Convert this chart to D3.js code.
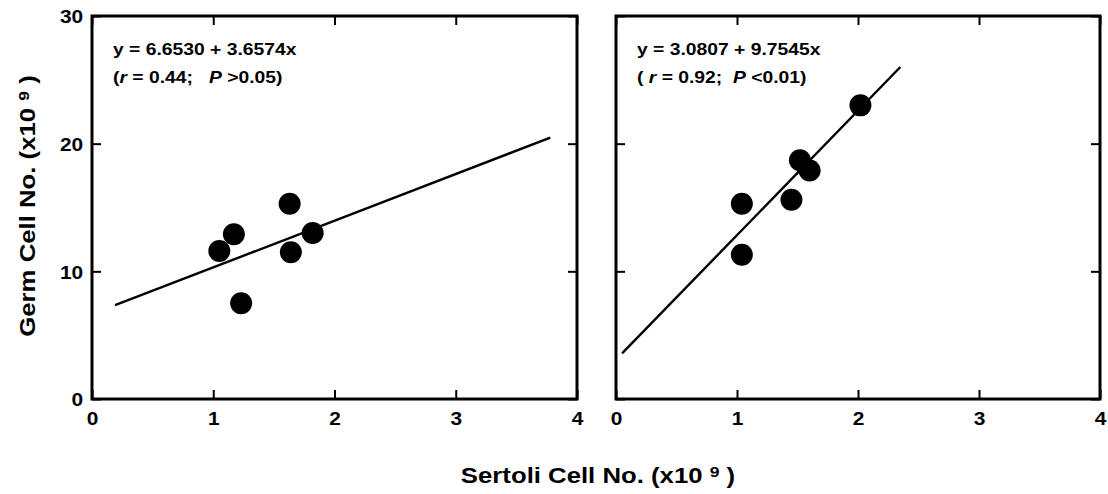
<!DOCTYPE html>
<html>
<head>
<meta charset="utf-8">
<script src="https://cdn.jsdelivr.net/npm/d3@7"></script>
<style>
    body { margin: 0; background: #fff; }
    svg text {
        font-family: "Liberation Sans", Arial, Helvetica, sans-serif;
        font-weight: bold;
        white-space: pre;
        fill: #000;
    }
</style>
</head>
<body>
<svg id="chart" width="1108" height="494"></svg>
<script>
// Axes (both panels share them)
const xTicks = [0, 1, 2, 3, 4];
const yTicks = [0, 10, 20, 30];

// Left panel: Sertoli (x10^9) vs Germ cells (x10^9)
const leftSertoli = [1.05, 1.17, 1.23, 1.63, 1.64, 1.82];
const leftGerm    = [11.6, 12.9, 7.5, 15.3, 11.5, 13.0];
const leftCoef    = [6.6530, 3.6574];   // intercept, slope
const leftSpan    = [0.19, 3.78];       // x extent of the fitted line
const leftEq      = 'y = 6.6530 + 3.6574x';
const leftStat    = [['(', false], ['r', true], [' = 0.44;   ', false], ['P', true], [' >0.05)', false]];

// Right panel
const rightSertoli = [1.04, 1.04, 1.45, 1.52, 1.60, 2.02];
const rightGerm    = [11.3, 15.3, 15.6, 18.7, 17.9, 23.0];
const rightCoef    = [3.0807, 9.7545];
const rightSpan    = [0.05, 2.35];
const rightEq      = 'y = 3.0807 + 9.7545x';
const rightStat    = [['( ', false], ['r', true], [' = 0.92;  ', false], ['P', true], [' <0.01)', false]];

const svg = d3.select('#chart');

// the original type is a wide Helvetica: stretch the glyphs horizontally
const wide = s => `scale(${s},1)`;

const plotTop = 16, plotBottom = 399;
const y = d3.scaleLinear().domain([0, 30]).range([plotBottom, plotTop]);

const panels = [
    { xs: leftSertoli,  ys: leftGerm,  coef: leftCoef,  span: leftSpan,  eq: leftEq,  stat: leftStat,  px: [92, 577],   yLabels: true },
    { xs: rightSertoli, ys: rightGerm, coef: rightCoef, span: rightSpan, eq: rightEq, stat: rightStat, px: [616, 1100], yLabels: false }
];

panels.forEach(p => {
    const x = d3.scaleLinear().domain([0, 4]).range(p.px);
    const g = svg.append('g');

    // ── ticks, all pointing inward ──
    const bot = g.append('g').attr('transform', `translate(0,${plotBottom})`)
        .call(d3.axisBottom(x).tickValues(xTicks).tickSizeInner(-9).tickSizeOuter(0).tickPadding(13)
            .tickFormat(d3.format('d')));
    g.append('g').attr('transform', `translate(0,${plotTop})`)
        .call(d3.axisTop(x).tickValues(xTicks).tickSizeInner(-9).tickSizeOuter(0).tickFormat(''));
    const lft = g.append('g').attr('transform', `translate(${p.px[0]},0)`)
        .call(d3.axisLeft(y).tickValues(yTicks).tickSizeInner(-9).tickSizeOuter(0).tickPadding(8)
            .tickFormat(p.yLabels ? d3.format('d') : ''));
    g.append('g').attr('transform', `translate(${p.px[1]},0)`)
        .call(d3.axisRight(y).tickValues(yTicks).tickSizeInner(-9).tickSizeOuter(0).tickFormat(''));

    g.selectAll('.domain').remove();
    g.selectAll('.tick line').attr('stroke', '#000').attr('stroke-width', 2);
    g.selectAll('.tick text').attr('font-size', 19).attr('font-family', null).attr('transform', wide(1.1));
    bot.selectAll('.tick text').attr('dy', '0.71em');
    lft.selectAll('.tick text').attr('dy', '0.36em');

    // ── frame ──
    g.append('rect')
        .attr('x', p.px[0]).attr('y', plotTop)
        .attr('width', p.px[1] - p.px[0]).attr('height', plotBottom - plotTop)
        .attr('fill', 'none').attr('stroke', '#000').attr('stroke-width', 3);

    // ── regression line ──
    const line = d3.line().x(d => x(d)).y(d => y(p.coef[0] + p.coef[1] * d));
    g.append('path')
        .attr('d', line(p.span))
        .attr('fill', 'none').attr('stroke', '#000').attr('stroke-width', 2.4);

    // ── points ──
    g.selectAll('circle')
        .data(p.xs.map((v, i) => [v, p.ys[i]]))
        .join('circle')
        .attr('cx', d => x(d[0])).attr('cy', d => y(d[1]))
        .attr('r', 11).attr('fill', '#000');

    // ── equation + stats ──
    const tx = p.px[0] + 21;
    g.append('text')
        .attr('transform', `translate(${tx},55) ${wide(1.17)}`)
        .attr('font-size', 16.5).text(p.eq);
    const st = g.append('text')
        .attr('transform', `translate(${tx},83) ${wide(1.17)}`)
        .attr('font-size', 16.5);
    p.stat.forEach(([s, it]) => {
        st.append('tspan').attr('font-style', it ? 'italic' : 'normal').text(s);
    });
});

// ── axis titles ──
function axisTitle(label, transform) {
    const t = svg.append('text')
        .attr('transform', transform)
        .attr('text-anchor', 'middle').attr('font-size', 22)
        .text(label + ' ');
    t.append('tspan').attr('font-size', 15).attr('dy', -6).text('9');
    t.append('tspan').attr('font-size', 22).attr('dy', 6).text(' )');
}
axisTitle('Sertoli Cell No. (x10', `translate(598,483) ${wide(1.17)}`);
axisTitle('Germ Cell No. (x10', `translate(35,206) rotate(-90) ${wide(1.17)}`);
</script>
</body>
</html>
